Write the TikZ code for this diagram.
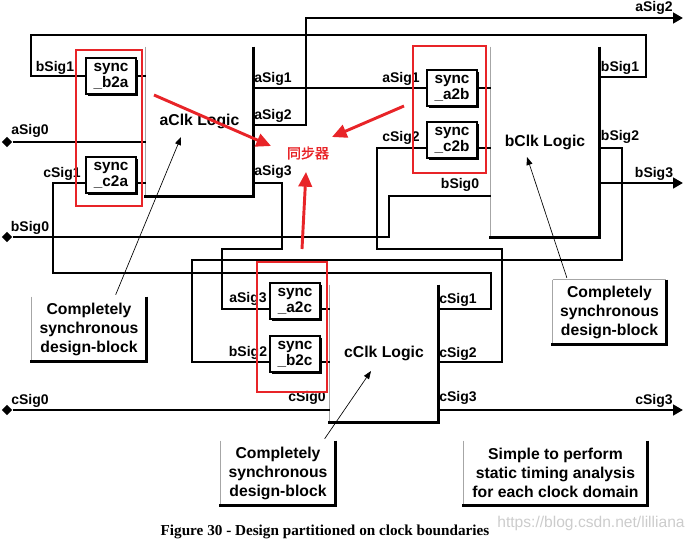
\documentclass[tikz,border=0pt]{standalone}
\usepackage{fontspec}
\setmainfont{Liberation Sans}
\newfontfamily\capfont{Liberation Serif}
\newfontfamily\cjkfont[AutoFakeBold=1.2]{Noto Sans CJK SC}
\usetikzlibrary{arrows.meta,shapes.geometric,shadows}
\definecolor{annored}{RGB}{232,36,40}
\tikzset{
  wire/.style={line width=2pt},
  wireout/.style={wire, -{Triangle[length=7.5pt,width=8pt]}},
  sig/.style={font=\fontsize{10.5}{12}\selectfont\bfseries, inner sep=0pt},
  port/.style={shape=diamond, fill=black, inner sep=0pt, minimum size=8pt},
  syncbox/.style={draw, line width=0.8pt, fill=white, align=center, inner sep=0pt,
    minimum width=37.5pt, minimum height=27pt,
    font=\fontsize{11.5}{12}\selectfont\bfseries,
    drop shadow={fill=black, opacity=1, shadow xshift=1.6pt, shadow yshift=-1.6pt}},
  blk/.style={inner sep=0pt, align=center,
    font=\fontsize{11.8}{14.25}\selectfont\bfseries,
    append after command={
      (\tikzlastnode.north west) edge[gray!70, line width=0.8pt] (\tikzlastnode.south west)
      (\tikzlastnode.north east) edge[line width=2.4pt] (\tikzlastnode.south east)
      (\tikzlastnode.south west) edge[line width=2.4pt, line cap=rect] (\tikzlastnode.south east)}},
  blktop/.style={blk,
    append after command={
      (\tikzlastnode.north west) edge[gray!70, line width=0.8pt] (\tikzlastnode.north east)}},
  pointer/.style={line width=0.5pt, -{Triangle[length=6pt,width=4.5pt]}},
  redbox/.style={draw=annored, line width=1.4pt},
  redarrow/.style={annored, line width=2.2pt, -{Triangle[length=11pt,width=10pt]}}
}
\begin{document}
\begin{tikzpicture}[x=0.75pt, y=-0.75pt]
      \useasboundingbox (0,0) rectangle (696,543);
      %%%%%%%%%%%%%%%%%%%%%%%%%%%%%%%%%%%%%%%%%%%%%%%
      \node[blk, minimum width=80.25pt, minimum height=111.75pt] at (199.5,121.5) (aclk) {aClk Logic};
      \node[blk, minimum width=81pt, minimum height=142.5pt]     at (545,142)     (bclk) {bClk Logic};
      \node[blk, minimum width=81pt, minimum height=102.75pt]    at (384,353.5)   (cclk) {cClk Logic};
      %%%%%%%%%%%%%%%%%%%%%%%%%%%%%%%%%%%%%%%%%%%%%%%
      \node[syncbox] at (111,76)  (sb2a) {sync\\\_b2a};
      \node[syncbox] at (111,175) (sc2a) {sync\\\_c2a};
      \node[syncbox] at (452,88)  (sa2b) {sync\\\_a2b};
      \node[syncbox] at (452,140) (sc2b) {sync\\\_c2b};
      \node[syncbox] at (295,301) (sa2c) {sync\\\_a2c};
      \node[syncbox] at (295,354) (sb2c) {sync\\\_b2c};
      %%%%%%%%%%%%%%%%%%%%%%%%%%%%%%%%%%%%%%%%%%%%%%%
      \node[port] at (7,142) (pa0) {};
      \node[port] at (7,237) (pb0) {};
      \node[port] at (7,410) (pc0) {};
      \coordinate (asig2end) at (683,18);
      \coordinate (bsig3end) at (683,183);
      \coordinate (csig3end) at (683,410);
      %%%%%%%%%%%%%%%%%%%%%%%%%%%%%%%%%%%%%%%%%%%%%%%
      % aClk domain
      \draw[wire] (pa0) -- (aclk.west |- pa0);
      \draw[wire] (bclk.east |- 0,77) -| (646,35) -| (31,76) -- (sb2a.west);
      \draw[wire] (cclk.east |- 0,309) -| (491,273) -| (53,183) -- ([yshift=-6pt]sc2a.west);
      \draw[wire] (sb2a.east) -- (aclk.west |- sb2a.east)
                  ([yshift=-6pt]sc2a.east) -- (aclk.west |- 0,183);
      \draw[wire] (aclk.east |- sa2b) -- (sa2b.west);
      \draw[wireout] (aclk.east |- 0,125) -| (306,18) -- (asig2end);
      \draw[wire] (aclk.east |- 0,183) -| (282,249) -| (222,309) -- ([yshift=-6pt]sa2c.west);
      %%%%%%%%%%%%%%%%%%%%%%%%%%%%%%%%%%%%%%%%%%%%%%%
      % bClk domain
      \draw[wire] (pb0) -| (389,196) -- (bclk.west |- 0,196);
      \draw[wire] (cclk.east |- 0,362) -| (502,249) -| (377,148) -- ([yshift=-6pt]sc2b.west);
      \draw[wire] (sa2b.east) -- (bclk.west |- sa2b.east)
                  ([yshift=-6pt]sc2b.east) -- (bclk.west |- 0,148);
      \draw[wire] (bclk.east |- 0,148) -| (622,260) -| (192,362) -- ([yshift=-6pt]sb2c.west);
      \draw[wireout] (bclk.east |- 0,183) -- (bsig3end);
      %%%%%%%%%%%%%%%%%%%%%%%%%%%%%%%%%%%%%%%%%%%%%%%
      % cClk domain
      \draw[wire] (pc0) -- (cclk.west |- pc0);
      \draw[wire] ([yshift=-6pt]sa2c.east) -- (cclk.west |- 0,309)
                  ([yshift=-6pt]sb2c.east) -- (cclk.west |- 0,362);
      \draw[wireout] (cclk.east |- 0,410) -- (csig3end);
      %%%%%%%%%%%%%%%%%%%%%%%%%%%%%%%%%%%%%%%%%%%%%%%
      \node[sig] at (55,68)   (lb1in)  {bSig1};
      \node[sig] at (30,131)  (la0in)  {aSig0};
      \node[sig] at (62,174)  (lc1in)  {cSig1};
      \node[sig] at (30,228)  (lb0in)  {bSig0};
      \node[sig] at (273,79)  (la1out) {aSig1};
      \node[sig] at (273,116) (la2out) {aSig2};
      \node[sig] at (273,172) (la3out) {aSig3};
      \node[sig] at (401,79)  (la1b)   {aSig1};
      \node[sig] at (401,138) (lc2b)   {cSig2};
      \node[sig] at (460,185) (lb0b)   {bSig0};
      \node[sig] at (620,68)  (lb1out) {bSig1};
      \node[sig] at (620,137) (lb2out) {bSig2};
      \node[sig] at (654,174) (lb3out) {bSig3};
      \node[sig] at (654,8)   (la2end) {aSig2};
      \node[sig] at (248,299) (la3c)   {aSig3};
      \node[sig] at (248,353) (lb2c)   {bSig2};
      \node[sig] at (30,401)  (lc0in)  {cSig0};
      \node[sig] at (307,398) (lc0c)   {cSig0};
      \node[sig] at (458,300) (lc1out) {cSig1};
      \node[sig] at (458,354) (lc2out) {cSig2};
      \node[sig] at (458,398) (lc3out) {cSig3};
      \node[sig] at (654,401) (lc3end) {cSig3};
      %%%%%%%%%%%%%%%%%%%%%%%%%%%%%%%%%%%%%%%%%%%%%%%
      \node[blk, minimum width=85.5pt, minimum height=48pt]     at (89,329)    (nota) {Completely\\synchronous\\design-block};
      \node[blktop, minimum width=84.75pt, minimum height=48pt] at (609.5,312) (notb) {Completely\\synchronous\\design-block};
      \node[blk, minimum width=85.5pt, minimum height=48pt]     at (278,473)   (notc) {Completely\\synchronous\\design-block};
      \node[blk, minimum width=137.25pt, minimum height=48pt]   at (555.5,473) (notd) {Simple to perform\\static timing analysis\\for each clock domain};
      \coordinate (aclkpt) at (181,137);
      \coordinate (bclkpt) at (527,157);
      \coordinate (cclkpt) at (371,371);
      \draw[pointer] ([xshift=20pt,yshift=1.5pt]nota.north) -- (aclkpt);
      \draw[pointer] ([xshift=-32pt,yshift=1.5pt]notb.north) -- (bclkpt);
      \draw[pointer] ([xshift=35pt,yshift=1.5pt]notc.north) -- (cclkpt);
      %%%%%%%%%%%%%%%%%%%%%%%%%%%%%%%%%%%%%%%%%%%%%%%
      \node[text=annored, font=\cjkfont\bfseries\fontsize{10.5}{12}\selectfont] at (308,153) (synctag) {同步器};
      \draw[redbox] (76,50) rectangle (142,206);
      \draw[redbox] (413,46) rectangle (486,173);
      \draw[redbox] (257,262) rectangle (327,392);
      \coordinate (ra1) at (154,95);  \coordinate (ra1tip) at (271,146);
      \coordinate (ra2) at (404,106); \coordinate (ra2tip) at (332,137);
      \coordinate (ra3) at (302,249); \coordinate (ra3tip) at (306,172);
      \draw[redarrow] (ra1) -- (ra1tip);
      \draw[redarrow] (ra2) -- (ra2tip);
      \draw[redarrow] (ra3) -- (ra3tip);
      %%%%%%%%%%%%%%%%%%%%%%%%%%%%%%%%%%%%%%%%%%%%%%%
      \node[font=\capfont\bfseries\fontsize{11.4}{13}\selectfont] at (325,532) (caption) {Figure 30 - Design partitioned on clock boundaries};
      \node[text=gray!40, font=\fontsize{11.7}{13}\selectfont] at (591,523) (wmark) {https://blog.csdn.net/lilliana};
\end{tikzpicture}
\end{document}
